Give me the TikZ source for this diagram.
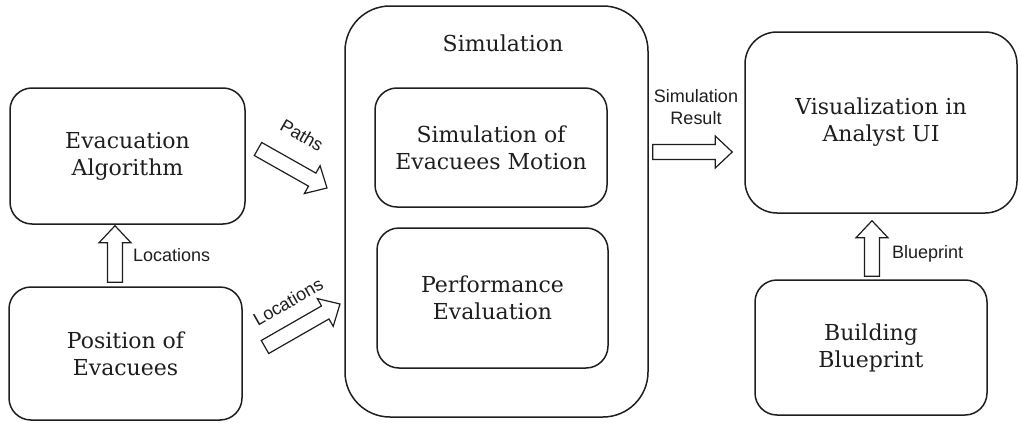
\documentclass[tikz,border=0pt]{standalone}
\usepackage{fontspec}
\setmainfont{DejaVu Serif}
\newfontfamily\labelfont{Liberation Sans}
\usetikzlibrary{calc}
\definecolor{ink}{HTML}{1E1E1E}
\tikzset{
  box/.style={draw=ink, line width=1.5pt, rounded corners=22pt, align=center,
    font=\fontsize{22}{27}\selectfont, text=ink, inner sep=0pt},
  lbl/.style={font=\labelfont\fontsize{18}{21.5}\selectfont, text=ink, inner sep=0pt, align=center},
  barrow/.style={draw=ink, line width=1.2pt, fill=white, line join=miter},
}
\newcommand{\blockarrow}[3]{%
  \coordinate (#3n) at ($(#2)!17pt!(#1)$);
  \draw[barrow] ($(#1)!7.5pt!90:(#2)$) -- ($(#3n)!7.5pt!90:(#2)$) -- ($(#3n)!16pt!90:(#2)$)
    -- (#2) -- ($(#3n)!16pt!-90:(#2)$) -- ($(#3n)!7.5pt!-90:(#2)$) -- ($(#1)!7.5pt!-90:(#2)$) -- cycle;}
\begin{document}
\begin{tikzpicture}[x=1pt,y=-1pt]
\useasboundingbox (0,0) rectangle (1021,423);
% boxes
\node[box, minimum width=235pt, minimum height=136pt] (alg) at (127.5,156) {Evacuation\\Algorithm};
\node[box, minimum width=233pt, minimum height=133pt] (pos) at (125.5,353.5) {Position of\\Evacuees};
\node[box, rounded corners=45pt, minimum width=303pt, minimum height=411pt] (sim) at (496.5,211.5) {};
\node[font=\fontsize{22}{27}\selectfont, text=ink, inner sep=0pt] (simt) at (503,43) {Simulation};
\node[box, minimum width=232pt, minimum height=119pt] (mot) at (491,147.5) {Simulation of\\Evacuees Motion};
\node[box, minimum width=231pt, minimum height=140pt] (perf) at (492.5,298) {Performance\\Evaluation};
\node[box, rounded corners=32pt, minimum width=272pt, minimum height=181pt] (vis) at (881,122.5) {Visualization in\\Analyst UI};
\node[box, minimum width=232pt, minimum height=135pt] (bp) at (871,347.5) {Building\\Blueprint};
% arrow end points
\coordinate (a1s) at ($(pos.north)+(-10.5,-4)$);
\coordinate (a1e) at ($(alg.south)+(-12.5,1)$);
\coordinate (a2s) at (258,149);
\coordinate (a2e) at (327,188);
\coordinate (a3s) at (265,347);
\coordinate (a3e) at (340,304);
\coordinate (a4s) at ($(sim.east)+(4,-59.5)$);
\coordinate (a4e) at ($(vis.west)+(-12,29.5)$);
\coordinate (a5s) at ($(bp.north)+(1,-3)$);
\coordinate (a5e) at ($(vis.south)+(-9,7)$);
\blockarrow{a1s}{a1e}{ar1}
\blockarrow{a2s}{a2e}{ar2}
\blockarrow{a3s}{a3e}{ar3}
\blockarrow{a4s}{a4e}{ar4}
\blockarrow{a5s}{a5e}{ar5}
% labels
\node[lbl, anchor=west] (l1) at (133,255) {Locations};
\node[lbl, rotate=-30] (l2) at (302,135) {Paths};
\node[lbl, rotate=30] (l3) at (288,302) {Locations};
\node[lbl] (l4) at (696,107) {Simulation\\Result};
\node[lbl, anchor=west] (l5) at (892,254) {Blueprint};
\end{tikzpicture}
\end{document}
